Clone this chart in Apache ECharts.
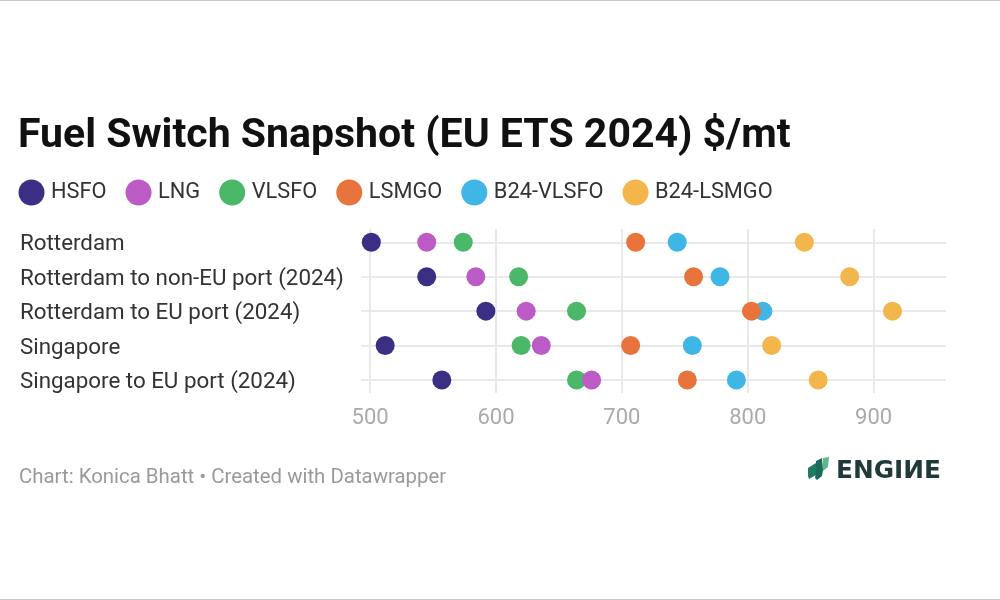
<!DOCTYPE html>
<html>
<head>
<meta charset="utf-8">
<style>
  html, body { margin: 0; padding: 0; background: #fff; }
  #chart { width: 1000px; height: 600px; }
</style>
<script src="https://cdn.jsdelivr.net/npm/echarts@6/dist/echarts.min.js"></script>
</head>
<body>
<div id="chart"></div>
<script>
const routes = ['Rotterdam', 'Rotterdam to non-EU port (2024)', 'Rotterdam to EU port (2024)', 'Singapore', 'Singapore to EU port (2024)'];
const xTicks = [500, 600, 700, 800, 900];

const hsfo = [501, 545, 592, 512, 557];
const lng = [545, 584, 624, 636, 676];
const vlsfo = [574, 618, 664, 620, 664];
const lsmgo = [711, 757, 803, 707, 752];
const b24Vlsfo = [744, 778, 812, 756, 791];
const b24Lsmgo = [845, 881, 915, 819, 856];

const font = 'Roboto';

function fuelSeries(name, values, color, z) {
  return {
    name: name,
    type: 'scatter',
    xAxisIndex: 0,
    yAxisIndex: 0,
    symbolSize: 19,
    clip: false,
    z: z,
    itemStyle: { color: color, opacity: 1 },
    data: values.map((v, i) => [v, routes[i]])
  };
}

const chart = echarts.init(document.getElementById('chart'));

chart.setOption({
  animation: false,
  backgroundColor: '#fff',
  title: [
    {
      text: 'Fuel Switch Snapshot (EU ETS 2024) $/mt',
      left: 18, top: 116, padding: 0,
      textStyle: { fontFamily: font, fontSize: 41, fontWeight: 'bold', color: '#111' }
    },
    {
      text: 'Chart: Konica Bhatt • Created with Datawrapper',
      left: 19, top: 468, padding: 0,
      textStyle: { fontFamily: font, fontSize: 20.4, fontWeight: 'normal', color: '#9a9a9a' }
    }
  ],
  legend: {
    left: 18.5, top: 179.5, padding: 0,
    icon: 'circle',
    itemWidth: 26, itemHeight: 26, itemGap: 19,
    textStyle: { fontFamily: font, fontSize: 21.8, color: '#333', padding: [0, 0, 0, 1.5] },
    data: ['HSFO', 'LNG', 'VLSFO', 'LSMGO', 'B24-VLSFO', 'B24-LSMGO']
  },
  grid: [
    { left: 361, right: 54, top: 242.3, height: 137.7 },
    { left: 361, right: 54, top: 229, height: 164 }
  ],
  xAxis: [
    {
      gridIndex: 0, type: 'value', min: 492.8, max: 957.5,
      axisLine: { show: false }, axisTick: { show: false }, axisLabel: { show: false }, splitLine: { show: false }
    },
    {
      gridIndex: 1, type: 'value', min: 492.8, max: 957.5,
      axisLine: { show: false },
      axisTick: { show: false, customValues: xTicks },
      axisLabel: { customValues: xTicks, margin: 14, fontFamily: font, fontSize: 22, color: '#aaa' },
      splitLine: { show: true, lineStyle: { color: '#e9e9e9', width: 2 } }
    }
  ],
  yAxis: [
    {
      gridIndex: 0, type: 'category', data: routes, inverse: true, boundaryGap: false,
      axisLine: { show: false }, axisTick: { show: false },
      axisLabel: {
        align: 'left', margin: 341, showMinLabel: true, showMaxLabel: true, interval: 0,
        formatter: '{route|{value}}',
        rich: { route: { fontFamily: font, fontSize: 22.35, color: '#333', padding: [5, 0, 0, 0] } }
      },
      splitLine: { show: true, lineStyle: { color: '#e9e9e9', width: 2 } }
    },
    {
      gridIndex: 1, type: 'value',
      axisLine: { show: false }, axisTick: { show: false }, axisLabel: { show: false }, splitLine: { show: false }
    }
  ],
  series: [
    fuelSeries('HSFO', hsfo, '#3a2e85', 5),
    fuelSeries('LNG', lng, '#bc5bc6', 6),
    fuelSeries('VLSFO', vlsfo, '#4bb768', 5),
    fuelSeries('LSMGO', lsmgo, '#e8743b', 6),
    fuelSeries('B24-VLSFO', b24Vlsfo, '#3fb6e6', 5),
    fuelSeries('B24-LSMGO', b24Lsmgo, '#f3b64d', 5)
  ],
  graphic: [
    // screenshot edges
    { type: 'rect', shape: { x: 0, y: 0, width: 1000, height: 1 }, style: { fill: '#c8c8c8' } },
    { type: 'rect', shape: { x: 0, y: 599, width: 1000, height: 1 }, style: { fill: '#c8c8c8' } },
    // logo mark and wordmark
    { type: 'polygon', shape: { points: [[808, 468], [816, 463], [816, 475], [809, 479], [808, 476]] }, style: { fill: '#1f7a62' } },
    { type: 'polygon', shape: { points: [[816, 461], [822, 458], [823, 470], [822, 476], [817, 480], [815, 478], [816, 472]] }, style: { fill: '#1d6b58' } },
    { type: 'polygon', shape: { points: [[823, 458], [829, 457], [828, 467], [823, 471]] }, style: { fill: '#5fb78c' } },
    {
      type: 'text', left: 836, top: 459,
      style: { text: 'ENGIИE', fontFamily: 'DejaVu Sans', fontWeight: 'bold', fontSize: 24.8, fill: '#1f3a38' }
    }
  ]
});
</script>
</body>
</html>
